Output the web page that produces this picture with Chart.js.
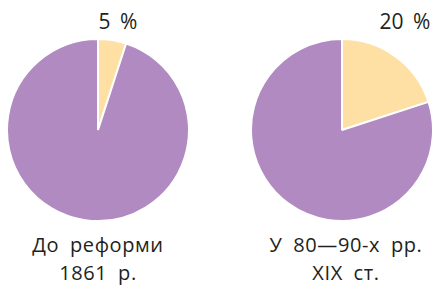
<!DOCTYPE html>
<html><head><meta charset="utf-8">
<script src="https://cdn.jsdelivr.net/npm/chart.js@4"></script>
<style>
html,body{margin:0;padding:0;background:#fff;width:433px;height:285px;overflow:hidden;}
.c{position:absolute;}
.t{position:absolute;font-family:"Open Sans",sans-serif;color:#231f20;text-align:center;white-space:nowrap;}
</style></head><body>
<div class="c" style="left:6px;top:38px;width:184px;height:184px;"><canvas id="c1"></canvas></div>
<div class="c" style="left:250px;top:38px;width:184px;height:184px;"><canvas id="c2"></canvas></div>
<div class="t" id="p1" style="left:68px;top:9px;width:100px;font-size:21px;line-height:25px;word-spacing:4px;"></div>
<div class="t" id="p2" style="left:355px;top:9px;width:100px;font-size:21px;line-height:25px;word-spacing:4px;"></div>
<div class="t" id="l1" style="left:-2px;top:231px;width:200px;font-size:20px;line-height:28px;letter-spacing:0.6px;word-spacing:5px;"></div>
<div class="t" id="l2" style="left:246px;top:231px;width:200px;font-size:20px;line-height:28px;letter-spacing:0.6px;word-spacing:5px;"></div>
<script>
const categories = ["Селяни-власники", "Інші"];
const share1861 = [5, 95];
const share1880s = [20, 80];
const pctLabels = ["5 %", "20 %"];
const periodLabels = [["До реформи", "1861 р."], ["У 80—90-х рр.", "XIX ст."]];
const colors = ["#fee0a5", "#b08ac0"];

document.getElementById('p1').textContent = pctLabels[0];
document.getElementById('p2').textContent = pctLabels[1];
document.getElementById('l1').innerHTML = periodLabels[0].join('<br>');
document.getElementById('l2').innerHTML = periodLabels[1].join('<br>');

function mk(id, data){
  new Chart(document.getElementById(id), {
    type: 'pie',
    data: { labels: categories, datasets: [{ data: data, backgroundColor: colors, borderColor: '#ffffff', borderWidth: 2 }] },
    options: {
      responsive: true, maintainAspectRatio: false, animation: false,
      layout: { padding: 0 },
      plugins: { legend: { display: false }, tooltip: { enabled: false } }
    }
  });
}
mk('c1', share1861);
mk('c2', share1880s);
</script>
</body></html>
